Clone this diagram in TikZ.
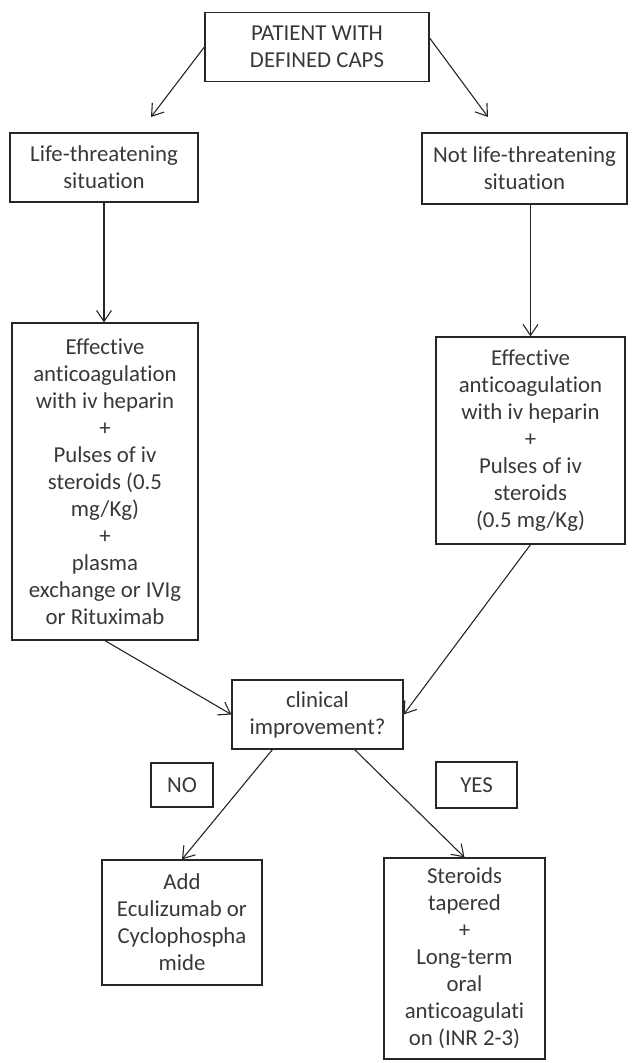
\documentclass[tikz,border=0pt]{standalone}
\usepackage{fontspec}
\setmainfont[Ligatures=NoCommon]{Carlito}
\usetikzlibrary{arrows.meta}

\tikzset{
  box/.style={draw=black!85, line width=1.3pt, align=center, inner sep=0pt,
    text=black!78, font=\fontsize{22.8}{27}\selectfont},
}

\begin{document}
\begin{tikzpicture}[x=1pt,y=-1pt,>={Straight Barb[length=11pt,width=15pt]},
  line width=1.1pt, draw=black!85]
\useasboundingbox (0,0) rectangle (636,1063);
\node[box,minimum width=224pt,minimum height=69pt] (patient) at (317,47) {PATIENT WITH\\DEFINED CAPS};
\node[box,minimum width=188pt,minimum height=69pt] (life) at (104,167.5) {Life-threatening\\situation};
\node[box,minimum width=205pt,minimum height=71pt] (notlife) at (524.5,168.5) {Not life-threatening\\situation};
\node[box,minimum width=186pt,minimum height=317pt] (lifetx) at (105,481.5) {Effective\\anticoagulation\\with iv heparin\\+\\Pulses of iv\\steroids (0.5\\mg/Kg)\\+\\plasma\\exchange or IVIg\\or Rituximab};
\node[box,minimum width=189pt,minimum height=207pt] (notlifetx) at (530.5,440.5) {Effective\\anticoagulation\\with iv heparin\\+\\Pulses of iv\\steroids\\(0.5 mg/Kg)};
\node[box,minimum width=171pt,minimum height=69pt] (clin) at (317.5,714.5) {clinical\\improvement?};
\node[box,minimum width=62pt,minimum height=44pt] (no) at (182,785) {NO};
\node[box,minimum width=81pt,minimum height=46pt] (yes) at (476.5,785) {YES};
\node[box,minimum width=160pt,minimum height=125pt] (add) at (182,922.5) {Add\\Eculizumab or\\Cyclophospha\\mide};
\node[box,minimum width=161pt,minimum height=201pt] (taper) at (464.5,958.5) {Steroids\\tapered\\+\\Long-term\\oral\\anticoagulati\\on (INR 2-3)};
\coordinate (lifein) at (151,117);
\coordinate (notlifein) at (488,117);
\draw[->] (patient.west) -- (lifein);
\draw[->] ([yshift=9pt]patient.east) -- (notlifein);
\draw[->] (life.south) -- (life.south |- lifetx.north);
\draw[->] (notlifetx.north |- notlife.south) -- (notlifetx.north);
\draw[->] (lifetx.south) -- (clin.west);
\draw[->] (notlifetx.south) -- (clin.east);
\draw[->] ([xshift=41pt]clin.south west) -- (add.north);
\draw[->] ([xshift=-49pt]clin.south east) -- (taper.north);
\end{tikzpicture}
\end{document}
